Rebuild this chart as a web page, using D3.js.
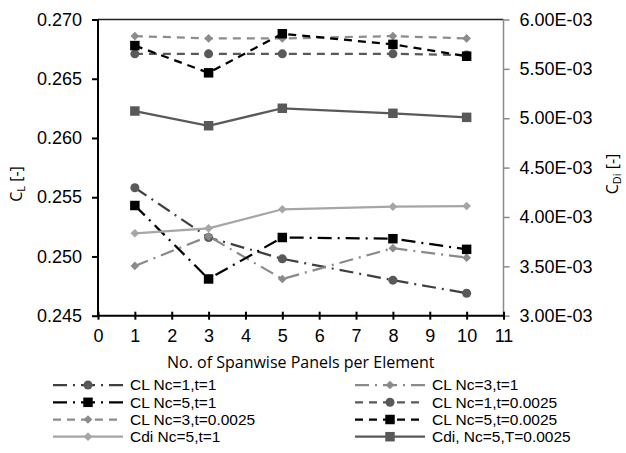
<!DOCTYPE html>
<html>
<head>
<meta charset="utf-8">
<script src="https://cdn.jsdelivr.net/npm/d3@7"></script>
<style>
  html, body { margin: 0; padding: 0; background: #fff; }
  svg { display: block; }
  .tick text { font-family: "Liberation Sans", Arial, sans-serif; font-size: 18px; fill: #000; }
  .legend text { font-family: "Liberation Sans", Arial, sans-serif; font-size: 15.5px; fill: #000; }
  .title { font-family: "Open Sans", sans-serif; font-size: 16px; fill: #000; }
</style>
</head>
<body>
<svg id="chart" width="626" height="453"></svg>
<script>
// ── data ──────────────────────────────────────────────────────────────────
const panels = [1, 3, 5, 8, 10];

const clNc1t1     = [0.2558, 0.2516, 0.2498, 0.2480, 0.2469];
const clNc3t1     = [0.2492, 0.2517, 0.2481, 0.2507, 0.2499];
const clNc5t1     = [0.2543, 0.2481, 0.2516, 0.2515, 0.2506];
const clNc1t0025  = [0.2671, 0.2671, 0.2671, 0.2671, 0.2670];
const clNc3t0025  = [0.2686, 0.2684, 0.2684, 0.2686, 0.2684];
const clNc5t0025  = [0.2678, 0.2655, 0.2688, 0.2679, 0.2669];
const cdiNc5t1    = [3.835e-3, 3.885e-3, 4.078e-3, 4.104e-3, 4.111e-3];
const cdiNc5t0025 = [5.073e-3, 4.924e-3, 5.101e-3, 5.050e-3, 5.009e-3];

const xTicks   = [0, 1, 2, 3, 4, 5, 6, 7, 8, 9, 10, 11];
const clTicks  = [0.245, 0.250, 0.255, 0.260, 0.265, 0.270];
const cdiTicks = [3.0e-3, 3.5e-3, 4.0e-3, 4.5e-3, 5.0e-3, 5.5e-3, 6.0e-3];

// series styling (legend order, row by row)
const series = [
  { name: 'CL Nc=1,t=1',          values: clNc1t1,     axis: 'L', line: '#404040', fill: '#595959', dash: '14,6,2,6', marker: 'circle' },
  { name: 'CL Nc=3,t=1',          values: clNc3t1,     axis: 'L', line: '#8a8a8a', fill: '#8a8a8a', dash: '14,6,2,6', marker: 'diamond' },
  { name: 'CL Nc=5,t=1',          values: clNc5t1,     axis: 'L', line: '#000000', fill: '#000000', dash: '14,6,2,6', marker: 'square' },
  { name: 'CL Nc=1,t=0.0025',     values: clNc1t0025,  axis: 'L', line: '#595959', fill: '#595959', dash: '8,6',      marker: 'circle' },
  { name: 'CL Nc=3,t=0.0025',     values: clNc3t0025,  axis: 'L', line: '#8c8c8c', fill: '#8c8c8c', dash: '8,6',      marker: 'diamond' },
  { name: 'CL Nc=5,t=0.0025',     values: clNc5t0025,  axis: 'L', line: '#000000', fill: '#000000', dash: '8,6',      marker: 'square' },
  { name: 'Cdi Nc=5,t=1',         values: cdiNc5t1,    axis: 'R', line: '#a6a6a6', fill: '#a6a6a6', dash: null,       marker: 'diamond' },
  { name: 'Cdi, Nc=5,T=0.0025',   values: cdiNc5t0025, axis: 'R', line: '#595959', fill: '#595959', dash: null,       marker: 'square' }
];

// ── layout ────────────────────────────────────────────────────────────────
const plot = { left: 98, right: 503.5, top: 19.5, bottom: 315.7 };

const svg = d3.select('#chart');

const x  = d3.scaleLinear().domain([0, 11]).range([plot.left, plot.right]);
const yL = d3.scaleLinear().domain([0.245, 0.270]).range([plot.bottom, plot.top]);
const yR = d3.scaleLinear().domain([3.0e-3, 6.0e-3]).range([plot.bottom, plot.top]);

function sci(d) {
  const [m, e] = d.toExponential(2).split('e');
  const n = +e;
  return m + 'E' + (n < 0 ? '-' : '+') + String(Math.abs(n)).padStart(2, '0');
}

// top border
svg.append('line')
  .attr('x1', plot.left).attr('x2', plot.right)
  .attr('y1', plot.top).attr('y2', plot.top)
  .attr('stroke', '#222').attr('stroke-width', 1.5);

// right axis (secondary, grey)
const gR = svg.append('g')
  .attr('transform', `translate(${plot.right},0)`)
  .call(d3.axisRight(yR).tickValues(cdiTicks).tickFormat(sci).tickSize(6).tickPadding(10));
gR.select('.domain').attr('stroke', '#8a8a8a').attr('stroke-width', 1.5)
  .attr('d', `M0,${plot.bottom}V${plot.top}`);
gR.selectAll('.tick line').attr('stroke', '#8a8a8a').attr('stroke-width', 1.5);

// left axis
const gL = svg.append('g')
  .attr('transform', `translate(${plot.left},0)`)
  .call(d3.axisLeft(yL).tickValues(clTicks).tickFormat(d3.format('.3f')).tickSize(6).tickPadding(10));
gL.select('.domain').attr('stroke', '#000').attr('stroke-width', 2)
  .attr('d', `M0,${plot.bottom}V${plot.top}`);
gL.selectAll('.tick line').attr('stroke', '#000').attr('stroke-width', 2);

// bottom axis, ticks crossing the line
const gB = svg.append('g')
  .attr('transform', `translate(0,${plot.bottom})`)
  .call(d3.axisBottom(x).tickValues(xTicks).tickFormat(d3.format('d')).tickSize(4).tickPadding(10));
gB.select('.domain').attr('stroke', '#000').attr('stroke-width', 2)
  .attr('d', `M${plot.left},0H${plot.right}`);
gB.selectAll('.tick line').attr('y1', -4).attr('y2', 4).attr('stroke', '#000').attr('stroke-width', 2);

// ── markers ───────────────────────────────────────────────────────────────
const symbols = {
  circle:  d3.symbol().type(d3.symbolCircle).size(64),
  square:  d3.symbol().type(d3.symbolSquare).size(90),
  diamond: d3.symbol().type(d3.symbolDiamond2 || d3.symbolDiamond).size(48)
};

// ── series ────────────────────────────────────────────────────────────────
series.forEach(s => {
  const y = s.axis === 'L' ? yL : yR;
  const pts = panels.map((p, i) => [x(p), y(s.values[i])]);
  const g = svg.append('g').attr('class', 'series');

  g.append('path')
    .datum(pts)
    .attr('d', d3.line())
    .attr('fill', 'none')
    .attr('stroke', s.line)
    .attr('stroke-width', 2.25)
    .attr('stroke-dasharray', s.dash);

  g.selectAll('path.mk')
    .data(pts)
    .join('path')
    .attr('class', 'mk')
    .attr('transform', d => `translate(${d[0]},${d[1]})`)
    .attr('d', symbols[s.marker])
    .attr('fill', s.fill);
});

// ── axis titles ───────────────────────────────────────────────────────────
const cl = svg.append('text').attr('class', 'title')
  .attr('transform', 'translate(22,184) rotate(-90)')
  .attr('text-anchor', 'middle');
cl.append('tspan').text('C');
cl.append('tspan').attr('dy', 3).attr('font-size', 11).text('L');
cl.append('tspan').attr('dy', -3).text(' [-]');

const cd = svg.append('text').attr('class', 'title')
  .attr('transform', 'translate(618,174) rotate(-90)')
  .attr('text-anchor', 'middle');
cd.append('tspan').text('C');
cd.append('tspan').attr('dy', 3).attr('font-size', 11).text('Di');
cd.append('tspan').attr('dy', -3).text(' [-]');

svg.append('text').attr('class', 'title')
  .attr('x', (plot.left + plot.right) / 2)
  .attr('y', 368)
  .attr('text-anchor', 'middle')
  .text('No. of Spanwise Panels per Element');

// ── legend ────────────────────────────────────────────────────────────────
const legend = svg.append('g').attr('class', 'legend');
const rowY = [385, 402.3, 419.5, 436.7];
const colX = [53, 355];

series.forEach((s, i) => {
  const cx = colX[i % 2];
  const cy = rowY[Math.floor(i / 2)];
  const g = legend.append('g').attr('transform', `translate(${cx},${cy})`);
  g.append('line')
    .attr('x1', 0).attr('x2', 70)
    .attr('stroke', s.line)
    .attr('stroke-width', 2.25)
    .attr('stroke-dasharray', s.dash);
  g.append('path')
    .attr('transform', 'translate(35,0)')
    .attr('d', symbols[s.marker])
    .attr('fill', s.fill);
  g.append('text')
    .attr('x', 77)
    .attr('dy', '0.35em')
    .text(s.name);
});
</script>
</body>
</html>
